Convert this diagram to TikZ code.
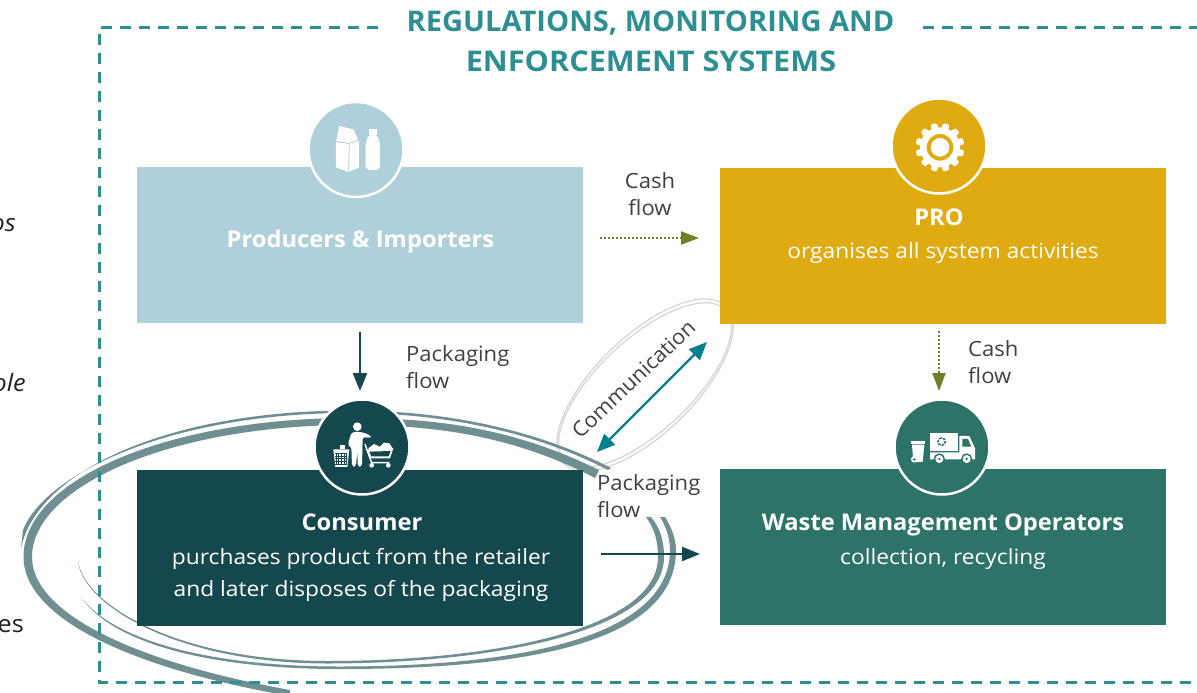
\documentclass[tikz,border=0pt]{standalone}
\usepackage{fontspec}
\setmainfont{Open Sans}
\usetikzlibrary{arrows.meta}
\definecolor{dashc}{HTML}{2E8F93}
\definecolor{prodc}{HTML}{AFD0DA}
\definecolor{proc}{HTML}{DFAB10}
\definecolor{consc}{HTML}{15474E}
\definecolor{wastec}{HTML}{2D7368}
\definecolor{ringc}{HTML}{6F8F92}
\definecolor{commc}{HTML}{D6D8D8}
\definecolor{commarrow}{HTML}{007F8F}
\definecolor{olivec}{HTML}{6B8027}
\definecolor{labelc}{HTML}{404040}
\definecolor{blackish}{HTML}{222222}
\newcommand{\fs}[2]{\fontsize{#1}{#1}\selectfont\addfontfeature{FakeStretch=#2}}
\tikzset{
  box/.style={inner sep=0pt,outer sep=0pt,minimum width=446pt,minimum height=156pt,fill=#1},
  disc/.style={circle,inner sep=0pt,outer sep=0pt,minimum size=95pt,fill=#1,draw=white,line width=2.5pt},
  title/.style={inner sep=0pt,anchor=base,text=dashc,font=\bfseries\fs{28.5}{1.02}},
  titleb/.style={inner sep=0pt,anchor=base,text=dashc,font=\bfseries\fs{28.5}{1.075}},
  boxhead/.style={inner sep=0pt,anchor=base,text=white,font=\bfseries\fs{23}{1.03}},
  boxtext/.style={inner sep=0pt,anchor=base,text=white,font=\fs{21}{1.085}},
  flowlabel/.style={inner sep=0pt,anchor=base west,text=labelc,font=\fs{21}{1.05}},
  flowlabelc/.style={inner sep=0pt,anchor=base,text=labelc,font=\fs{21}{1.05}},
  cut/.style={inner sep=0pt,anchor=base east,text=blackish,font=\fs{24}{1.05}},
  cutit/.style={inner sep=0pt,anchor=base east,text=blackish,font=\itshape\fs{24}{1.05}},
  dashline/.style={draw=dashc,line width=3pt,dash pattern=on 11pt off 8pt},
  cashflow/.style={draw=olivec,line width=2pt,dash pattern=on 2pt off 2pt,-{Triangle[length=18pt,width=13pt,fill=olivec]}},
  packflow/.style={draw=consc,line width=2.4pt,-{Triangle[length=18pt,width=14pt,fill=consc]}},
  commflow/.style={draw=commarrow,line width=2.4pt,{Triangle[length=18pt,width=15pt]}-{Triangle[length=18pt,width=15pt]}},
  commring/.style={draw=commc,line width=1.3pt},
}
\begin{document}
\begin{tikzpicture}[x=1pt,y=-1pt]
\path[use as bounding box,clip] (0,0) rectangle (1197,693);
\fill[white] (0,0) rectangle (1197,693);

% clipped words at the left margin
\node[cutit] (cutA) at (16,231) {os};
\node[cutit] (cutB) at (26,391) {ole};
\node[cut] (cutC) at (2,552) {n};
\node[cut] (cutD) at (24,632) {es};

% communication ellipse
\draw[commring,rotate around={44:(645,385)}] (645,385) ellipse [x radius=113,y radius=49];
\draw[commring,rotate around={43:(645,385)}] (645,385) ellipse [x radius=110,y radius=46];

% brush ellipse: thick stroke
\fill[ringc] (599,470) .. controls (510,426) and (430,418) .. (350,418)
  .. controls (172,418) and (23.5,478) .. (23.5,557)
  .. controls (23.5,617) and (128,668) .. (290,696)
  -- (290,690)
  .. controls (134,662) and (32,613) .. (32,557)
  .. controls (32,486) and (172,425) .. (350,425)
  .. controls (430,425) and (510,434) .. (595,478) -- cycle;
% thin upper stroke
\fill[ringc] (611,468) .. controls (525,424) and (430,410.5) .. (350,410.5)
  .. controls (170,410.5) and (38,470) .. (21,548)
  -- (23,530)
  .. controls (45,474) and (170,413) .. (350,413)
  .. controls (430,413) and (525,427) .. (608,470) -- cycle;
% lower inner stroke
\fill[ringc] (78,559) .. controls (78,600) and (170,664) .. (330,663.5)
  .. controls (500,663) and (664,630) .. (664,557)
  .. controls (664,540) and (660,528) .. (651,517)
  -- (646,517)
  .. controls (654,528) and (658,540) .. (658,557)
  .. controls (658,628) and (498,660.5) .. (330,661)
  .. controls (170,661.5) and (80,600) .. (78,559) -- cycle;
% lower outer stroke
\fill[ringc] (81,597) .. controls (110,640) and (200,669) .. (340,669)
  .. controls (520,669) and (676,645) .. (676,550)
  .. controls (676,540) and (672,528) .. (665,517)
  -- (660,517)
  .. controls (667,528) and (670,540) .. (670,550)
  .. controls (670,637) and (520,666.5) .. (340,666.5)
  .. controls (200,666.5) and (110,637) .. (81,597) -- cycle;

% dashed frame
\coordinate (frameA) at (378,28);
\coordinate (frameB) at (99,28);
\coordinate (frameC) at (99,682);
\coordinate (frameD) at (1197,682);
\coordinate (frameE) at (923,28);
\coordinate (frameF) at (1197,28);
\draw[dashline] (frameA) -- (frameB) -- (frameC) -- (frameD);
\draw[dashline] (frameE) -- (frameF);

\node[title] (t1) at (650.5,32) {REGULATIONS, MONITORING AND};
\node[titleb] (t2) at (651,71) {ENFORCEMENT SYSTEMS};

% boxes
\node[box=prodc,anchor=north west] (prod) at (137,167) {};
\node[box=proc,anchor=north west] (pro) at (720,168) {};
\node[box=consc,anchor=north west] (cons) at (137,470) {};
\node[box=wastec,anchor=north west] (waste) at (720,469) {};

% discs
\node[disc=prodc] (dprod) at (356,149.5) {};
\node[disc=proc] (dpro) at (939,146) {};
\node[disc=consc] (dcons) at (362,447) {};
\node[disc=wastec] (dwaste) at (942,447) {};

% carton and bottle
\begin{scope}[shift={(290,90)},x=.3333pt,y=-.3333pt]
\fill[white] (138,155) -- (148,108) -- (190,118) -- (207,155) -- (207,233) -- (175,246) -- (138,232) -- cycle;
\draw[prodc,line width=.8pt] (138,155) -- (178,160) -- (207,150);
\draw[prodc,line width=.8pt] (178,160) -- (176,246);
\fill[white] (236,118) rectangle (260,134);
\fill[white,rounded corners=4pt] (238,132) -- (258,132) -- (270,155) -- (270,240) -- (227,240) -- (227,155) -- cycle;
\end{scope}

% gear
\begin{scope}[shift={(880,90)},x=.3333pt,y=-.3333pt]
\fill[white] (180,172) circle [radius=60];
\foreach \a in {15,45,...,345}
  \fill[white,rounded corners=1.5pt,rotate around={\a:(180,172)}] (170,172-73) rectangle (190,172-50);
\fill[proc] (180,172) circle [radius=40];
\fill[white] (180,172) circle [radius=28];
\end{scope}

% person, bin, cart
\begin{scope}[shift={(300,390)},x=.3333pt,y=-.3333pt]
\fill[white] (172,110) circle [radius=13];
\fill[white,rounded corners=3pt] (155,126) -- (185,126) -- (212,136) -- (212,145) -- (188,140) -- (186,230) -- (173,230) -- (172,180) -- (168,230) -- (156,230) -- (154,170) -- (143,165) -- cycle;
\fill[white] (100,178) -- (148,178) -- (142,231) -- (106,231) -- cycle;
\foreach \i in {108,116,...,140} \draw[consc,line width=.5pt] (\i,190) -- (\i,224);
\foreach \j in {190,198,...,222} \draw[consc,line width=.5pt] (106,\j) -- (142,\j);
\fill[white] (120,165) rectangle (135,178);
\draw[white,line width=1.4pt] (195,162) -- (208,200) -- (215,218) -- (268,218);
\fill[white] (202,178) -- (280,175) -- (270,205) -- (210,205) -- cycle;
\fill[consc] (208,185) -- (272,183) -- (266,199) -- (214,199) -- cycle;
\fill[white] (205,175) -- (222,162) -- (240,170) -- (252,158) -- (268,160) -- (278,175) -- (272,180) -- (210,180) -- cycle;
\fill[white] (215,226) circle [radius=7];
\fill[white] (265,226) circle [radius=7];
\end{scope}

% wheelie bin and truck
\begin{scope}[shift={(880,390)},x=.3333pt,y=-.3333pt]
\fill[white] (93,152) rectangle (136,161);
\fill[white] (96,164) -- (133,164) -- (128,216) -- (100,216) -- cycle;
\fill[white] (103,208) circle [radius=10];
\fill[wastec] (103,208) circle [radius=4];
\fill[white] (150,128) rectangle (235,183);
\fill[white] (150,187) -- (238,187) -- (238,138) -- (268,138) -- (285,175) -- (285,208) -- (150,208) -- cycle;
\fill[wastec] (247,147) -- (264,147) -- (274,170) -- (247,170) -- cycle;
\fill[wastec] (178,207) circle [radius=17];
\fill[white] (178,207) circle [radius=12];
\fill[wastec] (178,207) circle [radius=4];
\fill[wastec] (260,207) circle [radius=17];
\fill[white] (260,207) circle [radius=12];
\fill[wastec] (260,207) circle [radius=4];
\draw[wastec,line width=1.6pt] (185,155) circle [radius=11];
\foreach \a in {20,140,260}
  \draw[white,line width=.9pt,rotate around={\a:(185,155)}] (172,155) -- (198,155);
\end{scope}

% box texts
\node[boxhead] (phead) at (360.5,247) {Producers \& Importers};
\node[boxhead] (prohead) at (939,225) {PRO};
\node[boxtext] (protext) at (943,258) {organises all system activities};
\node[boxhead] (conshead) at (362,530) {Consumer};
\node[boxtext] (constext1) at (361,564) {purchases product from the retailer};
\node[boxtext] (constext2) at (361,596) {and later disposes of the packaging};
\node[boxhead] (wastehead) at (943,530) {Waste Management Operators};
\node[boxtext] (wastetext) at (943,564) {collection, recycling};

% connectors
\coordinate (cashA) at (600,238);
\coordinate (cashB) at (699,238);
\coordinate (cashC) at (939,331);
\coordinate (cashD) at (939,391);
\coordinate (packA) at (360,332);
\coordinate (packB) at (360,391);
\coordinate (packC) at (601,554);
\coordinate (packD) at (700,554);
\coordinate (commA) at (597,452);
\coordinate (commB) at (707,342);
\draw[cashflow] (cashA) -- (cashB);
\draw[cashflow] (cashC) -- (cashD);
\draw[packflow] (packA) -- (packB);
\draw[packflow] (packC) -- (packD);
\draw[commflow] (commA) -- (commB);

% flow labels
\node[flowlabelc] (l1a) at (650,188) {Cash};
\node[flowlabelc] (l1b) at (650,215) {flow};
\node[flowlabel] (l2a) at (406,361) {Packaging};
\node[flowlabel] (l2b) at (406,388) {flow};
\node[flowlabel] (l3a) at (968,356) {Cash};
\node[flowlabel] (l3b) at (968,383) {flow};
\node[flowlabel] (l4a) at (597,490) {Packaging};
\node[flowlabel] (l4b) at (597,517) {flow};
\node[inner sep=0pt,text=labelc,font=\fs{21}{1.03},rotate=43.5] (lcomm) at (633.5,379) {Communication};
\end{tikzpicture}
\end{document}
